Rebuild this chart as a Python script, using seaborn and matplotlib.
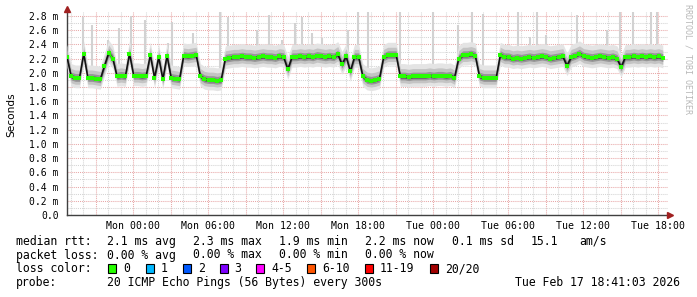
import numpy as np
import pandas as pd
import matplotlib
matplotlib.use("Agg")
import matplotlib.pyplot as plt
import matplotlib.dates as mdates
from matplotlib.ticker import MultipleLocator, FuncFormatter
from matplotlib.patches import Rectangle
import seaborn as sns

# ---------------- data ----------------
start_time = "2026-02-15 18:43"
end_time = "2026-02-17 18:48"
step_minutes = 20

median_ms = [
    2.22, 1.95, 1.93, 1.93, 2.27, 1.93, 1.93, 1.92, 1.91, 2.10,
    2.28, 2.20, 1.95, 1.96, 1.95, 2.27, 1.96, 1.96, 1.95, 1.96,
    2.25, 1.93, 2.22, 1.91, 2.24, 1.93, 1.92, 1.91, 2.24, 2.23,
    2.24, 2.25, 1.95, 1.91, 1.90, 1.90, 1.89, 1.90, 2.20, 2.21,
    2.22, 2.22, 2.23, 2.22, 2.22, 2.21, 2.22, 2.23, 2.22, 2.22,
    2.21, 2.23, 2.22, 2.05, 2.22, 2.22, 2.23, 2.22, 2.23, 2.22,
    2.24, 2.23, 2.22, 2.23, 2.22, 2.26, 2.12, 2.23, 2.02, 2.22,
    2.22, 1.95, 1.90, 1.89, 1.90, 1.92, 2.22, 2.25, 2.25, 2.25,
    1.95, 1.95, 1.94, 1.95, 1.95, 1.95, 1.95, 1.96, 1.95, 1.96,
    1.96, 1.95, 1.96, 1.93, 2.20, 2.25, 2.25, 2.26, 2.24, 1.95,
    1.93, 1.93, 1.93, 1.93, 2.25, 2.22, 2.22, 2.20, 2.21, 2.20,
    2.21, 2.22, 2.21, 2.22, 2.23, 2.22, 2.20, 2.21, 2.22, 2.23,
    2.10, 2.22, 2.24, 2.27, 2.23, 2.22, 2.21, 2.22, 2.23, 2.22,
    2.21, 2.22, 2.20, 2.08, 2.22, 2.22, 2.23, 2.22, 2.23, 2.22,
    2.23, 2.22, 2.23, 2.21,
]

# occasional slow pings (light smoke strands), hours after start and top in ms
spike_hours = [1.28, 2.0, 3.28, 4.16, 5.12, 6.24, 8.08, 8.4, 10.08, 12.24,
               12.88, 15.2, 16.16, 17.2, 18.24, 18.8, 19.6, 20.4, 22.48, 23.28,
               24.08, 26.64, 29.28, 31.28, 32.4, 33.28, 36.08, 37.04, 37.6, 38.32,
               40.8, 43.2, 44.24, 45.28, 46.72, 47.2]
spike_top_ms = [2.79, 2.67, 2.46, 2.63, 2.80, 2.74, 2.42, 2.71, 2.56, 2.85,
                2.79, 2.60, 2.81, 2.46, 2.70, 2.79, 2.56, 2.49, 2.60, 2.85,
                2.85, 2.85, 2.85, 2.67, 2.85, 2.83, 2.85, 2.50, 2.85, 2.53,
                2.82, 2.60, 2.85, 2.85, 2.85, 2.85]

# smoke bands: (below median, above median)
smoke_below = [0.14, 0.09, 0.05, 0.025]
smoke_above = [0.18, 0.11, 0.06, 0.03]
smoke_colors = ["#e4e4e4", "#c4c4c4", "#969696", "#585858"]

y_ticks_major = 0.2
y_ticks_minor = 0.1

legend_rows = [
    ["median rtt:", "2.1 ms avg", "2.3 ms max", "1.9 ms min", "2.2 ms now", "0.1 ms sd", "15.1", "am/s"],
    ["packet loss:", "0.00 % avg", "0.00 % max", "0.00 % min", "0.00 % now"],
]
loss_labels = ["0", "1", "2", "3", "4-5", "6-10", "11-19", "20/20"]
loss_colors = ["#26ff00", "#00b8ff", "#0059ff", "#7e00ff", "#ff00ff", "#ff5500", "#ff0000", "#a10000"]
probe_text = "20 ICMP Echo Pings (56 Bytes) every 300s"
date_text = "Tue Feb 17 18:41:03 2026"
side_text = "RRDTOOL / TOBI OETIKER"

# ---------------- build ----------------
sns.set_theme(style="white")
plt.rcParams["font.family"] = ["DejaVu Sans Mono", "DejaVu Sans"]

start = pd.Timestamp(start_time)
end = pd.Timestamp(end_time)
med = np.array(median_ms)
n = len(med)
times = start + pd.to_timedelta(np.arange(n) * step_minutes, unit="min")
df = pd.DataFrame({"time": times, "median": med})

W, H = 697, 297
fig = plt.figure(figsize=(W / 100, H / 100), dpi=100)
fig.patch.set_facecolor("white")
ax = fig.add_axes([67 / W, 1 - 215 / H, 601 / W, 203 / H])
ax.set_facecolor("white")

# spikes (light strands)
sp_times = start + pd.to_timedelta(np.array(spike_hours), unit="h")
sp_idx = np.clip(np.round(np.array(spike_hours) * 60 / step_minutes).astype(int), 0, n - 1)
ax.vlines(sp_times, med[sp_idx], spike_top_ms, color="#d2d2d2", lw=1.5, zorder=2)

# smoke
for b, a, c in zip(smoke_below, smoke_above, smoke_colors):
    ax.fill_between(df["time"], df["median"] - b, df["median"] + a, color=c, lw=0, zorder=3)

# median line
sns.lineplot(data=df, x="time", y="median", ax=ax, color="#111111", lw=1.1, zorder=4)

# green segments on flat parts
g_t, g_v = [], []
for i in range(n):
    g_t.append(times[i]); g_v.append(med[i])
    if i < n - 1 and abs(med[i + 1] - med[i]) > 0.1:
        g_t.append(times[i] + pd.Timedelta(minutes=step_minutes / 2)); g_v.append(np.nan)
ax.plot(g_t, g_v, color=loss_colors[0], lw=1.2, zorder=5)
sns.scatterplot(data=df, x="time", y="median", ax=ax, color=loss_colors[0],
                marker="s", s=5, linewidth=0, zorder=6)

# axes
ax.set_xlim(start, end)
ax.set_ylim(0, 2.856)
ax.set_xlabel("")
ax.set_ylabel("")

ax.xaxis.set_major_locator(mdates.HourLocator(byhour=range(0, 24, 3)))
ax.xaxis.set_minor_locator(mdates.HourLocator())
ax.xaxis.set_major_formatter(FuncFormatter(
    lambda v, p: mdates.num2date(v).strftime("%a %H:%M") if mdates.num2date(v).hour % 6 == 0 else ""))
ax.yaxis.set_major_locator(MultipleLocator(y_ticks_major))
ax.yaxis.set_minor_locator(MultipleLocator(y_ticks_minor))
ax.yaxis.set_major_formatter(FuncFormatter(lambda v, p: "0.0" if abs(v) < 1e-9 else f"{v:.1f} m"))

ax.grid(which="major", color="#e8a8a8", lw=0.75, ls=(0, (1, 1)), zorder=1)
ax.grid(which="minor", color="#d4d4d4", lw=0.75, ls=(0, (1, 1)), zorder=1)
ax.set_axisbelow(True)

ax.tick_params(axis="x", which="major", length=2, width=0.8, color="#d08080", pad=2.5,
               labelsize=7.1, labelcolor="#000000")
ax.tick_params(axis="y", which="major", length=2, width=0.8, color="#d08080", pad=4,
               labelsize=7.0, labelcolor="#000000")
ax.tick_params(which="minor", length=0)

for s in ["top", "right"]:
    ax.spines[s].set_visible(False)
for s in ["left", "bottom"]:
    ax.spines[s].set_color("#404040")
    ax.spines[s].set_linewidth(1.0)

# arrows
ax.plot([0], [1.015], marker="^", ms=4.5, color="#a02020", transform=ax.transAxes, clip_on=False, zorder=10)
ax.plot([1.004], [0], marker=">", ms=4.5, color="#a02020", transform=ax.transAxes, clip_on=False, zorder=10)

# y label
fig.text(11 / W, 1 - 115 / H, "Seconds", rotation=90, ha="center", va="center",
         fontsize=7.6, family="DejaVu Sans", color="#000000")

# side text
fig.text(688 / W, 1 - 4 / H, side_text, rotation=270, ha="center", va="top",
         fontsize=6.0, color="#b8b8b8")

# legend
fs = 8.3
col_x = [16, 107, 193, 279, 365, 452, 531, 579]
row_y = [241.5, 255, 268.8, 282.5]
for r, row in enumerate(legend_rows):
    for c, txt in enumerate(row):
        fig.text(col_x[c] / W, 1 - row_y[r] / H, txt, ha="left", va="center", fontsize=fs, color="#000000")

fig.text(16 / W, 1 - row_y[2] / H, "loss color:", ha="left", va="center", fontsize=fs, color="#000000")
box_x = [108, 146, 183, 219.5, 256, 307, 365, 430]
for bx, lab, col in zip(box_x, loss_labels, loss_colors):
    fig.add_artist(Rectangle((bx / W, 1 - (row_y[2] + 4.5) / H), 8 / W, 9 / H,
                             transform=fig.transFigure, facecolor=col, edgecolor="#000000", lw=0.8))
    fig.text((bx + 15) / W, 1 - row_y[2] / H, lab, ha="left", va="center", fontsize=fs, color="#000000")

fig.text(16 / W, 1 - row_y[3] / H, "probe:", ha="left", va="center", fontsize=fs, color="#000000")
fig.text(107 / W, 1 - row_y[3] / H, probe_text, ha="left", va="center", fontsize=fs, color="#000000")
fig.text(680 / W, 1 - row_y[3] / H, date_text, ha="right", va="center", fontsize=fs, color="#000000")

fig.savefig("out.png", dpi=100, facecolor="white")
